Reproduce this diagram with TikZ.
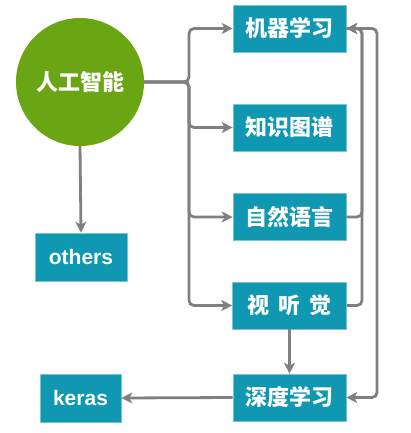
\documentclass[tikz,border=0pt]{standalone}
\usepackage{fontspec}
\setmainfont{Liberation Sans}
\newfontfamily\cjk{Noto Sans CJK SC}
\usetikzlibrary{arrows.meta}
\definecolor{boxteal}{RGB}{16,152,179}
\definecolor{boxedge}{RGB}{120,196,214}
\definecolor{aigreen}{RGB}{106,166,20}
\definecolor{linegray}{RGB}{128,128,128}
\begin{document}
\begin{tikzpicture}[x=1pt,y=-1pt,
  box/.style={fill=boxteal,draw=boxedge,line width=0.6pt,minimum width=113pt,minimum height=47pt,
    inner sep=0pt,text=white,font=\cjk\bfseries\fontsize{22}{26}\selectfont},
  lbox/.style={box,font=\bfseries\fontsize{21}{25}\selectfont},
  conn/.style={draw=linegray,line width=2.8pt,rounded corners=5pt,
    -{Stealth[length=11pt,width=11pt,inset=3pt]}}]
\useasboundingbox (0,0) rectangle (411,433);
\node[circle,fill=aigreen,minimum size=128pt,inner sep=0pt,text=white,
  font=\cjk\bfseries\fontsize{22}{26}\selectfont] (ai) at (80,82) {人工智能};
\node[lbox,minimum width=92pt,minimum height=48pt] (others) at (81,257) {others};
\node[box] (ml) at (289.5,28.5) {机器学习};
\node[box] (kg) at (289.5,127.5) {知识图谱};
\node[box] (nl) at (289.5,217) {自然语言};
\node[box,minimum width=114pt] (va) at (289.5,305.5) {视\hspace{0.4em}听\hspace{0.4em}觉};
\node[box] (dl) at (289.5,397.5) {深度学习};
\node[lbox,minimum width=81pt,minimum height=48pt] (keras) at (80.5,398) {keras};
\coordinate (bus) at (189,82);
\coordinate (r1) at (362,0);
\coordinate (r2) at (377,0);
\draw[conn] (ai.south) -- (others.north);
\draw[conn] (ai.east) -- (bus) |- (ml.west);
\draw[conn] (ai.east) -- (bus) |- (kg.west);
\draw[conn] (ai.east) -- (bus) |- (nl.west);
\draw[conn] (ai.east) -- (bus) |- (va.west);
\draw[conn] (nl.east) -- (nl.east -| r1) |- (ml.east);
\draw[conn] (va.east) -- (va.east -| r1) |- (ml.east);
\draw[conn] (ml.east) -- (ml.east -| r2) |- (dl.east);
\draw[conn] (va.south) -- (dl.north);
\draw[conn] (dl.west) -- (keras.east);
\end{tikzpicture}
\end{document}
